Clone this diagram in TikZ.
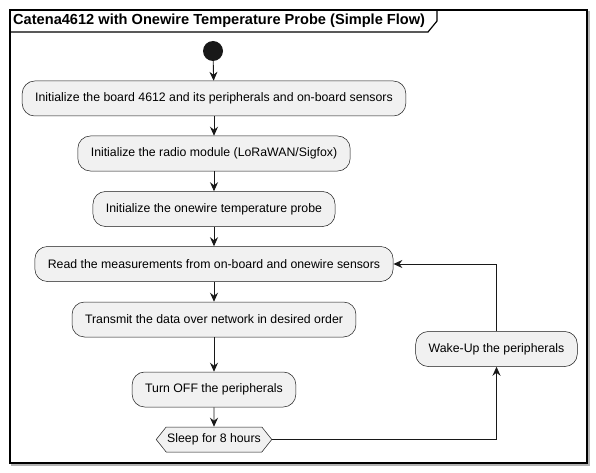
\documentclass[tikz,border=0pt]{standalone}
\usepackage{fontspec}
\setmainfont{Liberation Sans}
\usetikzlibrary{arrows.meta,shapes.symbols}
\definecolor{actfill}{HTML}{F1F1F1}
\definecolor{actline}{HTML}{181818}
\begin{document}
\begin{tikzpicture}[x=1pt, y=-1pt]
\useasboundingbox (0,0) rectangle (596,473);

\tikzset{frame/.style={line width=1.2pt, draw=black}}
\draw[line width=1.5pt, draw=gray!60] (12,12) rectangle (589,465);
\draw[frame, fill=white] (10,10) rectangle (587,463);
\draw[frame] (10,32) -- (428,32) -- (437,21) -- (437,10);
\node[anchor=west, font=\fontsize{14.6}{17}\selectfont\bfseries, inner sep=0pt] (title) at (13,21) {Catena4612 with Onewire Temperature Probe (Simple Flow)};

\tikzset{every node/.style={font=\fontsize{12.3}{14}\selectfont}}
\tikzset{act/.style={draw=actline, fill=actfill, line width=0.5pt, rounded corners=12.5pt, minimum height=35pt, inner xsep=13pt}}
\tikzset{sleepbox/.style={draw=actline, fill=actfill, line width=0.5pt, shape=signal, signal to=east and west, signal pointer angle=103, minimum height=25pt, inner xsep=1pt}}
\tikzset{flow/.style={-{Stealth[length=9pt, width=8pt, inset=3pt]}, line width=0.9pt, draw=actline}}

\node[circle, fill=actline, minimum size=20pt, inner sep=0pt] (start) at (213,51) {};
\node[act] (board) at (214,98.5) {Initialize the board 4612 and its peripherals and on-board sensors};
\node[act] (radio) at (214,153.5) {Initialize the radio module (LoRaWAN/Sigfox)};
\node[act] (probe) at (214,209) {Initialize the onewire temperature probe};
\node[act] (read) at (214,264) {Read the measurements from on-board and onewire sensors};
\node[act] (send) at (214,319.5) {Transmit the data over network in desired order};
\node[act] (off) at (214,389.5) {Turn OFF the peripherals};
\node[sleepbox] (sleep) at (214,439.5) {Sleep for 8 hours};
\node[act] (wake) at (496.5,349) {Wake-Up the peripherals};

\draw[flow] (start) -- (board);
\draw[flow] (board) -- (radio);
\draw[flow] (radio) -- (probe);
\draw[flow] (probe) -- (read);
\draw[flow] (read) -- (send);
\draw[flow] (send) -- (off);
\draw[flow] (off) -- (sleep);
\draw[flow] (sleep.east) -| (wake.south);
\draw[flow] (wake.north) |- (read.east);
\end{tikzpicture}
\end{document}
